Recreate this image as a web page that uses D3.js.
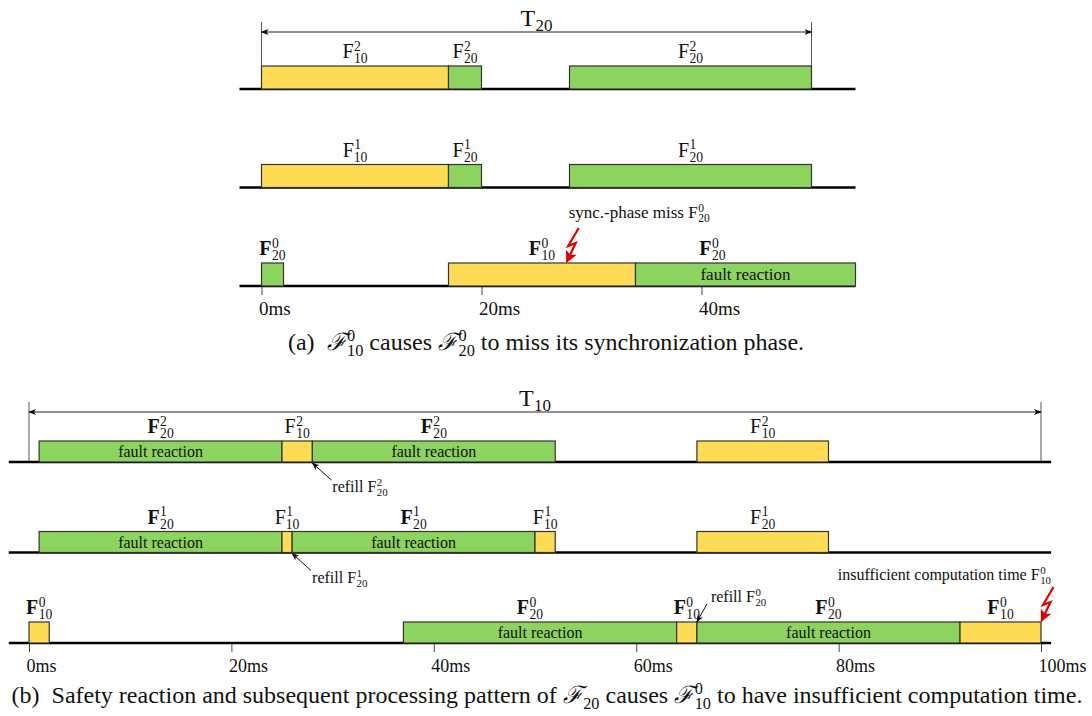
<!DOCTYPE html>
<meta charset="utf-8">
<style>
    body { margin: 0; background: #fff; }
    svg text { font-family: 'Liberation Serif', 'DejaVu Serif', serif; fill: #111; white-space: pre; }
</style>
<svg width="1092" height="716"></svg>
<script src="https://d3js.org/d3.v7.min.js"></script>
<script>

    // ---- data (times in ms) ----
    // chart (a): F10 causes F20 to miss its sync phase
    const ticksA = [0, 20, 40];
    const segmentsA = [
        { row: 2, start: 0,  end: 17, budget: 10, task: "10", job: "2" },
        { row: 2, start: 17, end: 20, budget: 20, task: "20", job: "2" },
        { row: 2, start: 28, end: 50, budget: 20, task: "20", job: "2" },
        { row: 1, start: 0,  end: 17, budget: 10, task: "10", job: "1" },
        { row: 1, start: 17, end: 20, budget: 20, task: "20", job: "1" },
        { row: 1, start: 28, end: 50, budget: 20, task: "20", job: "1" },
        { row: 0, start: 0,  end: 2,  budget: 20, task: "20", job: "0" },
        { row: 0, start: 17, end: 34, budget: 10, task: "10", job: "0" },
        { row: 0, start: 34, end: 54, budget: 20, task: "20", job: "0", note: "fault reaction", labelAt: 41 }
    ];
    const periodA = { name: "T", sub: "20", from: 0, to: 50 };
    const boltsA = [{ row: 0, at: 27.7, text: "sync.-phase miss ", task: "20", job: "0" }];

    // chart (b): fault reaction of F20 starves F10
    const ticksB = [0, 20, 40, 60, 80, 100];
    const segmentsB = [
        { row: 2, start: 1,  end: 25, budget: 20, task: "20", job: "2", note: "fault reaction" },
        { row: 2, start: 25, end: 28, budget: 10, task: "10", job: "2" },
        { row: 2, start: 28, end: 52, budget: 20, task: "20", job: "2", note: "fault reaction" },
        { row: 2, start: 66, end: 79, budget: 10, task: "10", job: "2" },
        { row: 1, start: 1,  end: 25, budget: 20, task: "20", job: "1", note: "fault reaction" },
        { row: 1, start: 25, end: 26, budget: 10, task: "10", job: "1" },
        { row: 1, start: 26, end: 50, budget: 20, task: "20", job: "1", note: "fault reaction" },
        { row: 1, start: 50, end: 52, budget: 10, task: "10", job: "1" },
        { row: 1, start: 66, end: 79, budget: 10, task: "20", job: "1" },
        { row: 0, start: 0,  end: 2,  budget: 10, task: "10", job: "0" },
        { row: 0, start: 37, end: 64, budget: 20, task: "20", job: "0", note: "fault reaction", labelAt: 49.5 },
        { row: 0, start: 64, end: 66, budget: 10, task: "10", job: "0" },
        { row: 0, start: 66, end: 92, budget: 20, task: "20", job: "0", note: "fault reaction" },
        { row: 0, start: 92, end: 100, budget: 10, task: "10", job: "0" }
    ];
    const periodB = { name: "T", sub: "10", from: 0, to: 100 };
    const refillsB = [
        { row: 2, at: 28, task: "20", job: "2" },
        { row: 1, at: 26, task: "20", job: "1" },
        { row: 0, at: 66, task: "20", job: "0" }
    ];
    const boltsB = [{ row: 0, at: 100, text: "insufficient computation time ", task: "10", job: "0" }];

    const colors = { 10: "#FFDC55", 20: "#8DD35F" };

    var svg = d3.select("svg");

    const defs = svg.append("defs");
    defs.append("marker").attr("id", "arrow").attr("markerWidth", 8).attr("markerHeight", 6)
        .attr("refX", 7).attr("refY", 3).attr("orient", "auto-start-reverse").attr("markerUnits", "userSpaceOnUse")
        .append("path").attr("d", "M0,0 L8,3 L0,6 L2,3 z").attr("fill", "#111");
    defs.append("marker").attr("id", "arrow-red").attr("markerWidth", 12).attr("markerHeight", 12)
        .attr("refX", 11).attr("refY", 6).attr("orient", "auto").attr("markerUnits", "userSpaceOnUse")
        .append("path").attr("d", "M0,0 L12,6 L0,12 L3,6 z").attr("fill", "#e00000");

    // one <text> with stacked super/subscripts, parts = [{t, sup, sub, bold, font}]
    function rich(parent, x, y, parts, size, anchor, subSize, subDrop) {
        const text = parent.append("text").attr("x", x).attr("y", y).attr("font-size", size)
            .attr("text-anchor", anchor || "start");
        const small = subSize || size * 0.68;
        const up = size * 0.36, down = subDrop || size * 0.26;
        let dy = 0, dx = 0;
        parts.forEach(function (p) {
            if (typeof p === "string") p = { t: p };
            if (p.t) {
                const s = text.append("tspan").attr("dx", dx).attr("dy", dy).text(p.t)
                    .attr("font-weight", p.bold ? "bold" : null);
                if (p.font) s.style("font-family", p.font).style("font-style", "italic");
                dy = 0; dx = 0;
            }
            let supW = 0;
            if (p.sup != null) {
                const s = text.append("tspan").attr("dx", dx + 0.5).attr("dy", dy - up)
                    .attr("font-size", small).text(p.sup);
                supW = s.node().getComputedTextLength() + 0.5;
                dy = up; dx = 0;
            }
            if (p.sub != null) {
                const s = text.append("tspan").attr("dx", supW ? -supW + 0.5 : dx + 0.5).attr("dy", dy + down)
                    .attr("font-size", small).text(p.sub);
                const subW = s.node().getComputedTextLength() + 0.5;
                dy = -down;
                dx = supW > subW ? supW - subW : 0;
            }
        });
        return text;
    }

    function bolt(g, tx, ty) {
        g.append("path")
            .attr("d", "M" + (tx + 12.5) + "," + (ty - 35) + " L" + (tx + 2) + "," + (ty - 17) +
                " L" + (tx + 9.5) + "," + (ty - 20) + " L" + (tx + 0.5) + "," + (ty - 1))
            .attr("fill", "none").attr("stroke", "#e00000").attr("stroke-width", 2.2)
            .attr("marker-end", "url(#arrow-red)");
    }

    function chart(o) {
        const g = svg.append("g");
        const x = d3.scaleLinear().domain(o.domain).range(o.range);
        const y = d3.scaleLinear().domain([0, 2]).range(o.rows);

        // period dimension line
        [o.period.from, o.period.to].forEach(function (t) {
            g.append("line").attr("x1", x(t)).attr("x2", x(t)).attr("y1", o.dimY - 10).attr("y2", y(2))
                .attr("stroke", "#555").attr("stroke-width", 1);
        });
        g.append("line").attr("x1", x(o.period.from)).attr("x2", x(o.period.to))
            .attr("y1", o.dimY).attr("y2", o.dimY).attr("stroke", "#222").attr("stroke-width", 1)
            .attr("marker-start", "url(#arrow)").attr("marker-end", "url(#arrow)");
        rich(g, (x(o.period.from) + x(o.period.to)) / 2, o.dimY - 6,
            [{ t: o.period.name, sub: o.period.sub }], 24, "middle", 17, 5);

        // baselines
        [0, 1, 2].forEach(function (r) {
            g.append("line").attr("x1", x(o.axisFrom)).attr("x2", x(o.axisTo))
                .attr("y1", y(r)).attr("y2", y(r)).attr("stroke", "#000").attr("stroke-width", 2.5);
        });

        // bars
        g.append("g").selectAll("rect")
            .data(o.segments)
            .enter().append("rect")
            .attr("x", function (d) { return x(d.start); })
            .attr("y", function (d) { return y(d.row) - o.barH; })
            .attr("width", function (d) { return x(d.end) - x(d.start); })
            .attr("height", o.barH)
            .attr("fill", function (d) { return colors[d.budget]; })
            .attr("stroke", "#333").attr("stroke-width", 1.2);

        o.segments.forEach(function (d) {
            const at = d.labelAt != null ? d.labelAt : (d.start + d.end) / 2;
            rich(g, x(at), y(d.row) - o.barH - 8, [{ t: "F", bold: o.boldRule(d), sup: d.job, sub: d.task }], 20, "middle");
            if (d.note) {
                g.append("text").attr("x", x((d.start + d.end) / 2)).attr("y", y(d.row) - o.barH / 2 + 5.5)
                    .attr("text-anchor", "middle").attr("font-size", o.noteSize).text(d.note);
            }
        });

        // time axis under the bottom row
        const axis = g.append("g").attr("transform", "translate(0," + (y(0) + 1) + ")")
            .call(d3.axisBottom(x).tickValues(o.ticks).tickSize(8).tickFormat(function (d) { return d + "ms"; }));
        axis.select(".domain").remove();
        axis.attr("font-family", null).attr("font-size", null);
        axis.selectAll("line").attr("stroke", "#444");
        axis.selectAll("text").attr("text-anchor", "start").attr("x", -3).attr("y", 15)
            .attr("dy", "0.71em").attr("font-size", o.tickSize).attr("fill", "#111");

        // lightning annotations
        o.bolts.forEach(function (b) {
            const tx = x(b.at), ty = y(b.row) - o.barH;
            bolt(g, tx, ty);
            if (o.boltAnchor === "middle") {
                rich(g, tx + 73, ty - 45, [b.text, { t: "F", sup: b.job, sub: b.task }], 17, "middle");
            } else {
                rich(g, tx + 10, ty - 42, [b.text, { t: "F", sup: b.job, sub: b.task }], 16, "end");
            }
        });

        // refill annotations
        (o.refills || []).forEach(function (r) {
            const off = refillOffsets[r.row];
            const tx = x(r.at), ty = off.up ? y(r.row) - o.barH : y(r.row) + 1;
            g.append("line").attr("x1", tx + off.dx).attr("y1", ty + off.dy).attr("x2", tx).attr("y2", ty)
                .attr("stroke", "#111").attr("stroke-width", 1).attr("marker-end", "url(#arrow)");
            rich(g, tx + off.tx, ty + off.ty, ["refill ", { t: "F", sup: r.job, sub: r.task }], 16, "start");
        });
        return g;
    }

    const refillOffsets = {
        2: { dx: 19, dy: 17, tx: 20, ty: 29, up: false },
        1: { dx: 19, dy: 17, tx: 20, ty: 29, up: false },
        0: { dx: 10, dy: -18, tx: 14, ty: -20, up: true }
    };

    chart({
        domain: [0, 50], range: [261.5, 811.5], rows: [286, 89], barH: 23,
        axisFrom: -2, axisTo: 54, dimY: 32, period: periodA, segments: segmentsA,
        ticks: ticksA, tickSize: 19, noteSize: 17, bolts: boltsA, boltAnchor: "middle",
        boldRule: function (d) { return d.row === 0; }
    });

    chart({
        domain: [0, 100], range: [29, 1041], rows: [643, 462], barH: 21,
        axisFrom: -2, axisTo: 101, dimY: 412, period: periodB, segments: segmentsB,
        ticks: ticksB, tickSize: 18, noteSize: 16, bolts: boltsB, boltAnchor: "end",
        refills: refillsB,
        boldRule: function (d) { return d.row === 0 || d.budget === 20; }
    });

    // captions
    const SCRIPT = "DejaVu Serif";
    rich(svg, 546, 350, ["(a)  ", { t: "ℱ", font: SCRIPT, sup: "0", sub: "10" }, " causes ",
        { t: "ℱ", font: SCRIPT, sup: "0", sub: "20" }, " to miss its synchronization phase."], 24, "middle");
    rich(svg, 547, 703, ["(b)  Safety reaction and subsequent processing pattern of ",
        { t: "ℱ", font: SCRIPT, sub: "20" }, " causes ", { t: "ℱ", font: SCRIPT, sup: "0", sub: "10" },
        " to have insufficient computation time."], 24, "middle");

</script>
